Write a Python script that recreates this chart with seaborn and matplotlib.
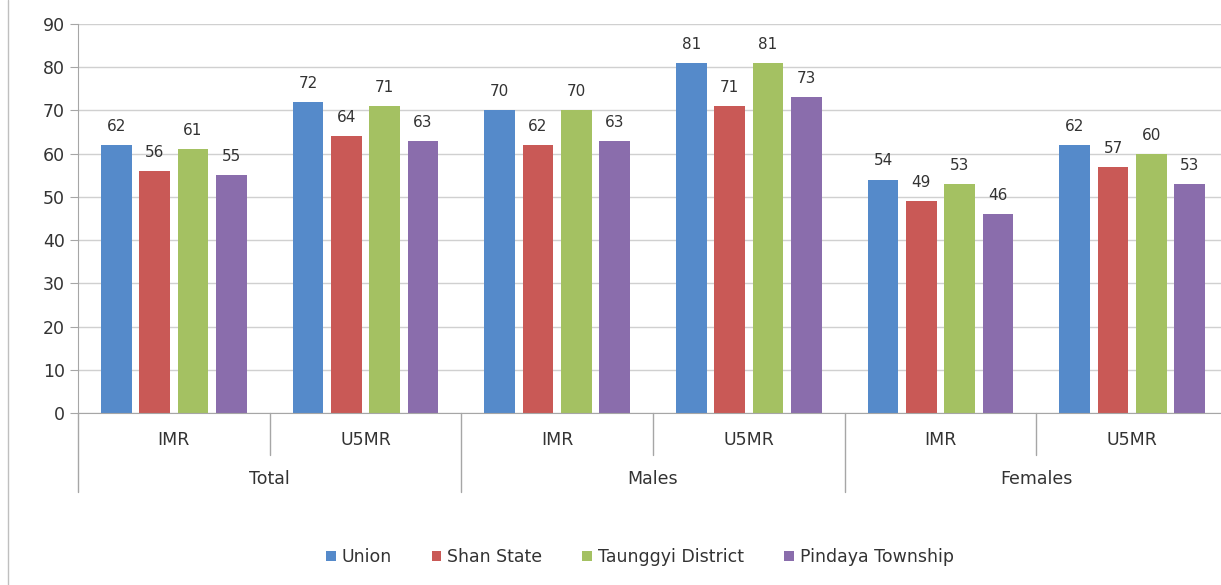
import pandas as pd
import matplotlib.pyplot as plt
import seaborn as sns
from matplotlib.patches import Patch
from matplotlib.transforms import blended_transform_factory

# --- DONNEES ---
groupes = ["Total", "Males", "Females"]
indicateurs = ["IMR", "U5MR"]
series = ["Union", "Shan State", "Taunggyi District", "Pindaya Township"]
couleurs = ["#558ACA", "#C95956", "#A4C162", "#8A6DAC"]

union = [62, 72, 70, 81, 54, 62]
shan = [56, 64, 62, 71, 49, 57]
taunggyi = [61, 71, 70, 81, 53, 60]
pindaya = [55, 63, 63, 73, 46, 53]

cles = [f"{g} {i}" for g in groupes for i in indicateurs]
lignes = []
for nom, valeurs in zip(series, [union, shan, taunggyi, pindaya]):
    for cle, v in zip(cles, valeurs):
        lignes.append({"cat": cle, "serie": nom, "valeur": v})
df = pd.DataFrame(lignes)

sns.set_style("white")
plt.rcParams['font.family'] = ['DejaVu Sans']
texte = "#333333"
gris = "#A6A6A6"
taille = 12.5

fig = plt.figure(figsize=(12.21, 5.85), dpi=100)
ax = fig.add_axes([78 / 1221, 1 - 413 / 585, (1228 - 78) / 1221, (413 - 24) / 585])

sns.barplot(data=df, x="cat", y="valeur", hue="serie", order=cles, hue_order=series,
            palette=couleurs, saturation=1, width=0.8, gap=0.2, linewidth=0,
            ax=ax, legend=False)

for cont in ax.containers:
    ax.bar_label(cont, padding=8, fontsize=11, color=texte)

ax.set_ylim(0, 90)
ax.set_xlim(-0.5, 5.5)
ax.set_yticks(range(0, 91, 10))
ax.yaxis.grid(True, color="#D0D0D0", linewidth=1)
ax.set_axisbelow(True)
ax.tick_params(axis="y", labelsize=taille, colors=texte, length=6, color=gris, direction="out", left=True)
ax.tick_params(axis="x", bottom=False, labelbottom=False)
ax.set_xlabel("")
ax.set_ylabel("")
for s in ["top", "right"]:
    ax.spines[s].set_visible(False)
ax.spines["left"].set_color(gris)
ax.spines["bottom"].set_color(gris)

# Axe a deux niveaux
tr = blended_transform_factory(ax.transData, ax.transAxes)
for k in range(7):
    x = k - 0.5
    bas = -0.203 if k % 2 == 0 else -0.108
    ax.plot([x, x], [0, bas], transform=tr, color=gris, linewidth=1, clip_on=False)
for k, cle in enumerate(cles):
    ax.text(k, -0.069, cle.split(" ")[1], transform=tr, ha="center", va="center",
            fontsize=taille, color=texte)
for k, g in enumerate(groupes):
    ax.text(2 * k + 0.5, -0.170, g, transform=tr, ha="center", va="center",
            fontsize=taille, color=texte)

# Bordure du graphique
fig.add_artist(plt.Line2D([8 / 1221, 8 / 1221], [0, 1], color="#BFBFBF", linewidth=1))

poignees = [Patch(facecolor=c, edgecolor="none", label=n) for n, c in zip(series, couleurs)]
fig.legend(handles=poignees, loc="center", bbox_to_anchor=(0.524, 1 - 557 / 585), ncol=4,
           frameon=False, fontsize=taille, handlelength=0.55, handleheight=0.55,
           handletextpad=0.35, columnspacing=2.3, labelcolor=texte)

plt.savefig("out.png", dpi=100)
plt.close(fig)
